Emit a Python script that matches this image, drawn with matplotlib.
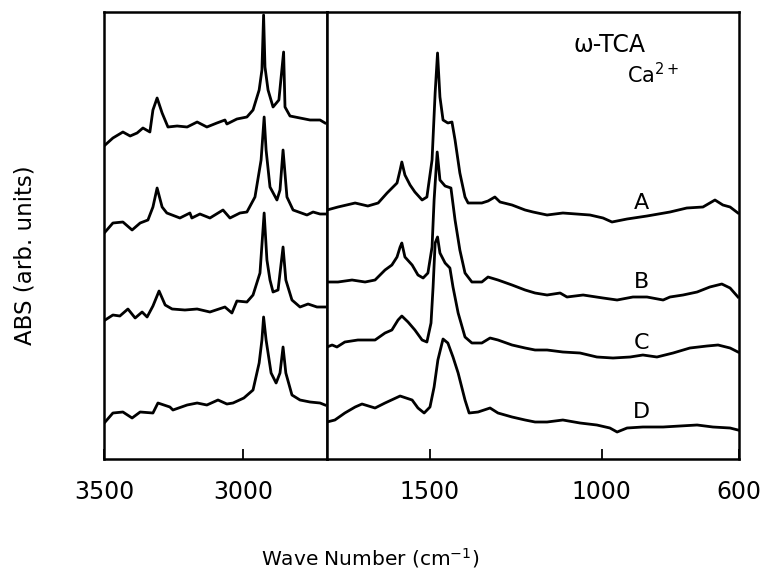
import matplotlib.pyplot as plt

# left panel (C-H / N-H region), wavenumber vs absorbance (arb.)
wn_a_hi = [3496, 3468, 3432, 3406, 3381, 3360, 3335, 3324, 3309, 3291, 3270, 3237, 3201, 3165, 3130,
           3094, 3065, 3058, 3022, 2986, 2964, 2942, 2932, 2926, 2921, 2910, 2892, 2871, 2854, 2849,
           2831, 2795, 2759, 2723, 2705]
abs_a_hi = [314, 321, 327, 323, 326, 331, 327, 349, 361, 346, 332, 333, 332, 337, 332,
            336, 339, 335, 340, 342, 349, 369, 389, 444, 392, 369, 352, 359, 407, 352,
            343, 341, 339, 339, 336]

wn_b_hi = [3496, 3468, 3432, 3399, 3370, 3342, 3324, 3309, 3291, 3274, 3227, 3191, 3184, 3155, 3119,
           3072, 3047, 3011, 2986, 2957, 2935, 2924, 2917, 2903, 2878, 2867, 2856, 2842, 2820, 2770,
           2748, 2723, 2705]
abs_b_hi = [227, 236, 237, 229, 236, 239, 252, 271, 252, 246, 241, 246, 241, 245, 241,
            249, 241, 246, 247, 262, 299, 342, 309, 272, 259, 269, 309, 262, 249, 244,
            247, 245, 245]

wn_c_hi = [3496, 3468, 3443, 3414, 3388, 3363, 3345, 3324, 3302, 3280, 3255, 3209, 3165, 3119, 3065,
           3040, 3022, 2986, 2964, 2939, 2924, 2914, 2903, 2892, 2874, 2856, 2846, 2824, 2795, 2766,
           2734, 2705]
abs_c_hi = [139, 144, 143, 150, 141, 147, 142, 153, 168, 154, 150, 149, 150, 147, 152,
            146, 158, 157, 164, 186, 246, 199, 179, 167, 169, 212, 179, 159, 152, 155,
            152, 152]

wn_d_hi = [3496, 3468, 3432, 3399, 3370, 3324, 3306, 3263, 3252, 3201, 3165, 3130, 3090, 3058, 3036,
           2997, 2964, 2942, 2932, 2926, 2917, 2899, 2881, 2867, 2856, 2846, 2824, 2795, 2759, 2723,
           2705]
abs_d_hi = [37, 46, 47, 41, 47, 46, 56, 52, 49, 54, 56, 54, 59, 55, 56,
            61, 69, 96, 119, 142, 119, 86, 76, 86, 112, 86, 64, 59, 57, 56,
            54]

# right panel (fingerprint region)
wn_a_lo = [1800, 1768, 1718, 1681, 1651, 1625, 1596, 1587, 1582, 1573, 1558, 1544, 1523, 1509, 1494,
           1485, 1478, 1471, 1462, 1448, 1436, 1427, 1413, 1398, 1389, 1349, 1331, 1311, 1296, 1261,
           1223, 1200, 1159, 1113, 1034, 996, 970, 926, 868, 801, 752, 705, 685, 670, 647,
           626, 603]
abs_a_lo = [249, 252, 256, 253, 256, 266, 276, 289, 297, 284, 274, 267, 259, 262, 299,
            366, 406, 362, 339, 336, 337, 319, 286, 262, 256, 256, 258, 262, 257, 254,
            249, 247, 244, 246, 244, 241, 237, 240, 243, 247, 251, 252, 256, 259, 254,
            252, 246]

wn_b_lo = [1800, 1768, 1727, 1689, 1660, 1631, 1611, 1596, 1587, 1582, 1573, 1552, 1535, 1520, 1506,
           1494, 1488, 1479, 1471, 1456, 1439, 1427, 1413, 1398, 1378, 1349, 1331, 1302, 1261, 1223,
           1194, 1159, 1121, 1101, 1054, 996, 955, 909, 868, 821, 801, 763, 722, 685, 650,
           626, 603]
abs_b_lo = [177, 177, 179, 177, 179, 189, 194, 202, 212, 216, 202, 194, 184, 181, 186,
            212, 259, 307, 279, 273, 271, 239, 209, 186, 177, 177, 182, 179, 174, 169,
            166, 164, 166, 162, 164, 161, 159, 162, 162, 159, 162, 164, 167, 172, 175,
            171, 162]

wn_c_lo = [1800, 1785, 1771, 1748, 1710, 1660, 1631, 1611, 1593, 1582, 1564, 1544, 1523, 1509, 1497,
           1491, 1485, 1478, 1471, 1456, 1442, 1433, 1418, 1398, 1378, 1349, 1325, 1302, 1261, 1223,
           1194, 1159, 1113, 1063, 1014, 967, 917, 880, 839, 792, 743, 693, 661, 626, 603]
abs_c_lo = [112, 114, 112, 117, 119, 119, 126, 129, 139, 143, 137, 129, 119, 117, 136,
            172, 216, 222, 206, 196, 191, 172, 146, 122, 116, 116, 121, 119, 114, 111,
            109, 109, 107, 106, 102, 101, 102, 104, 102, 106, 111, 113, 114, 111, 107]

wn_d_lo = [1800, 1777, 1748, 1718, 1698, 1660, 1631, 1587, 1552, 1535, 1517, 1500, 1488, 1477, 1462,
           1448, 1433, 1418, 1398, 1386, 1360, 1325, 1302, 1261, 1223, 1194, 1159, 1113, 1063, 1014,
           976, 955, 926, 880, 821, 772, 722, 676, 626, 603]
abs_d_lo = [37, 39, 46, 52, 55, 51, 56, 63, 59, 51, 46, 52, 72, 99, 120,
            116, 102, 86, 59, 46, 47, 51, 46, 42, 39, 37, 37, 39, 36, 34,
            31, 27, 31, 32, 32, 33, 34, 32, 31, 29]

trace_names = ['A', 'B', 'C', 'D']
name_y = [256, 177, 116, 47]

hi = [(wn_a_hi, abs_a_hi), (wn_b_hi, abs_b_hi), (wn_c_hi, abs_c_hi), (wn_d_hi, abs_d_hi)]
lo = [(wn_a_lo, abs_a_lo), (wn_b_lo, abs_b_lo), (wn_c_lo, abs_c_lo), (wn_d_lo, abs_d_lo)]

fig = plt.figure(figsize=(7.71, 5.77), dpi=100)
ax1 = fig.add_axes([0.1349, 0.2045, 0.2892, 0.7747])
ax2 = fig.add_axes([0.4241, 0.2045, 0.5344, 0.7747])

for x, y in hi:
    ax1.plot(x, y, color='black', lw=2.0)
for x, y in lo:
    ax2.plot(x, y, color='black', lw=2.0)

ax1.set_xlim(3500, 2698)
ax2.set_xlim(1800, 600)
for ax in (ax1, ax2):
    ax.set_ylim(0, 447)
    ax.set_yticks([])
    for s in ax.spines.values():
        s.set_linewidth(1.8)
    ax.tick_params(axis='x', direction='in', length=7, width=1.3, pad=15, labelsize=17)

ax1.set_xticks([3500, 3000])
ax1.set_xticklabels(['3500', '3000'])
ax2.set_xticks([1500, 1000, 600])
ax2.set_xticklabels(['1500', '1000', '600'])

ax2.text(976, 414, 'ω-TCA', ha='center', va='center', fontsize=17)
ax2.text(850, 384, 'Ca$^{2+}$', ha='center', va='center', fontsize=15)
for name, y in zip(trace_names, name_y):
    ax2.text(883, y, name, ha='center', va='center', fontsize=16)

fig.text(370 / 771, 1 - 558 / 577, 'Wave Number (cm$^{-1}$)', ha='center', va='center', fontsize=14.5)
fig.text(25 / 771, 1 - 255 / 577, 'ABS (arb. units)', ha='center', va='center',
         rotation=90, fontsize=16.5)

fig.savefig('out.png', dpi=100)
